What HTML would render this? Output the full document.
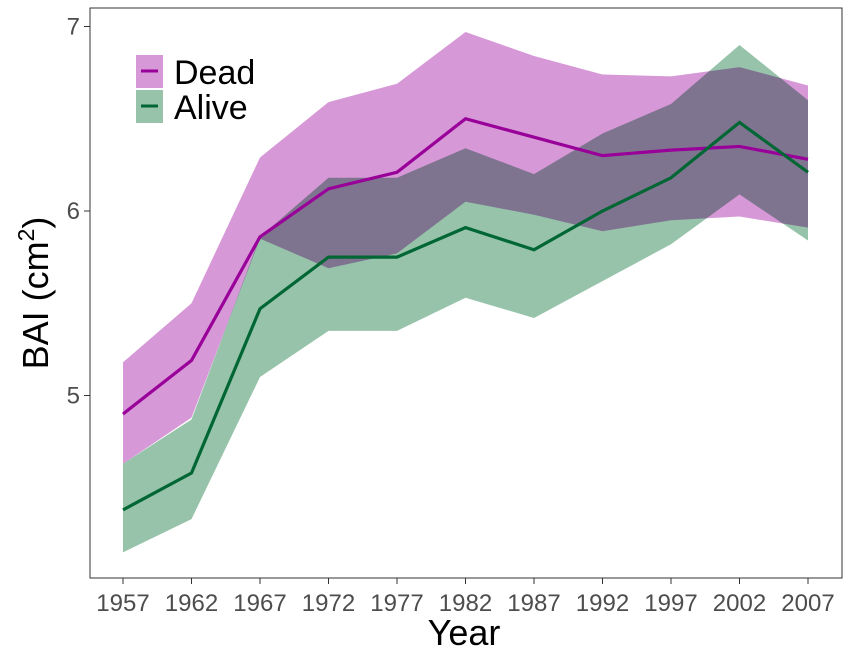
<!DOCTYPE html>
<html><head><meta charset="utf-8"><style>
html,body{margin:0;padding:0;background:#fff;}
svg text{font-family:"Liberation Sans",sans-serif;}
</style></head><body>
<svg id="chart" width="851" height="653" viewBox="0 0 851 653" xmlns="http://www.w3.org/2000/svg">
<rect x="90" y="8" width="752" height="570" fill="#fff" stroke="#333" stroke-width="1"/>
<g id="bands" style="isolation:isolate"></g>
<g id="lines"></g>
<g id="axes"></g>
<g>
<rect x="136" y="55" width="27" height="33" fill="#d698d6"/>
<line x1="141" x2="158" y1="71" y2="71" stroke="#990099" stroke-width="3"/>
<rect x="136" y="90" width="27" height="33" fill="#97c3ab"/>
<line x1="141" x2="158" y1="106" y2="106" stroke="#006633" stroke-width="3"/>
<text x="174" y="84" font-size="34" fill="#000">Dead</text>
<text x="174" y="119" font-size="34" fill="#000">Alive</text>
</g>
<text x="464" y="645" font-size="36" text-anchor="middle" fill="#000">Year</text>
<text transform="translate(48,293) rotate(-90)" font-size="36" text-anchor="middle" fill="#000">BAI (cm<tspan font-size="23" dy="-14">2</tspan><tspan dy="14">)</tspan></text>
</svg>
<script>
const years=[1957,1962,1967,1972,1977,1982,1987,1992,1997,2002,2007];
const deadMean=[4.90,5.19,5.86,6.12,6.21,6.50,6.40,6.30,6.33,6.35,6.28];
const deadUpper=[5.18,5.50,6.29,6.59,6.69,6.97,6.84,6.74,6.73,6.78,6.68];
const deadLower=[4.63,4.88,5.85,5.69,5.77,6.05,5.98,5.89,5.95,5.97,5.91];
const aliveMean=[4.38,4.58,5.47,5.75,5.75,5.91,5.79,6.00,6.18,6.48,6.21];
const aliveUpper=[4.63,4.87,5.86,6.18,6.18,6.34,6.20,6.42,6.58,6.90,6.60];
const aliveLower=[4.15,4.33,5.10,5.35,5.35,5.53,5.42,5.62,5.82,6.09,5.84];
const yTicks=[5,6,7];
const NS="http://www.w3.org/2000/svg";
const xS=y=>123+(y-1957)*(808-123)/50;
const yS=v=>211-(v-6)*184.5;
function band(up,lo,fill,name){
  const p=document.createElementNS(NS,"path");
  let d=years.map((y,i)=>(i?"L":"M")+xS(y)+","+yS(up[i])).join("");
  for(let i=years.length-1;i>=0;i--)d+="L"+xS(years[i])+","+yS(lo[i]);
  p.setAttribute("d",d+"Z");p.setAttribute("fill",fill);
  p.setAttribute("style","mix-blend-mode:multiply");
  
  
  document.getElementById("bands").appendChild(p);
}
function line(v,col,name){
  const p=document.createElementNS(NS,"path");
  p.setAttribute("d",years.map((y,i)=>(i?"L":"M")+xS(y)+","+yS(v[i])).join(""));
  p.setAttribute("fill","none");p.setAttribute("stroke",col);p.setAttribute("stroke-width","3.2");
  
  
  document.getElementById("lines").appendChild(p);
}
band(deadUpper,deadLower,"#d698d6","dead-ci-band");
band(aliveUpper,aliveLower,"#97c3ab","alive-ci-band");
line(deadMean,"#990099","dead-line");
line(aliveMean,"#006633","alive-line");
const ax=document.getElementById("axes");
years.forEach(y=>{
  const t=document.createElementNS(NS,"line");
  t.setAttribute("x1",xS(y));t.setAttribute("x2",xS(y));t.setAttribute("y1",578);t.setAttribute("y2",584);t.setAttribute("stroke","#333");
  ax.appendChild(t);
  const l=document.createElementNS(NS,"text");
  l.setAttribute("x",xS(y));l.setAttribute("y",611);l.setAttribute("font-size","24");l.setAttribute("text-anchor","middle");l.setAttribute("fill","#4d4d4d");
  l.textContent=y;
  
  
  ax.appendChild(l);
});
yTicks.forEach(v=>{
  const t=document.createElementNS(NS,"line");
  t.setAttribute("x1",84);t.setAttribute("x2",90);t.setAttribute("y1",yS(v));t.setAttribute("y2",yS(v));t.setAttribute("stroke","#333");
  ax.appendChild(t);
  const l=document.createElementNS(NS,"text");
  l.setAttribute("x",80);l.setAttribute("y",yS(v)+8);l.setAttribute("font-size","24");l.setAttribute("text-anchor","end");l.setAttribute("fill","#4d4d4d");
  l.textContent=v;
  
  
  ax.appendChild(l);
});
</script>
</body></html>
